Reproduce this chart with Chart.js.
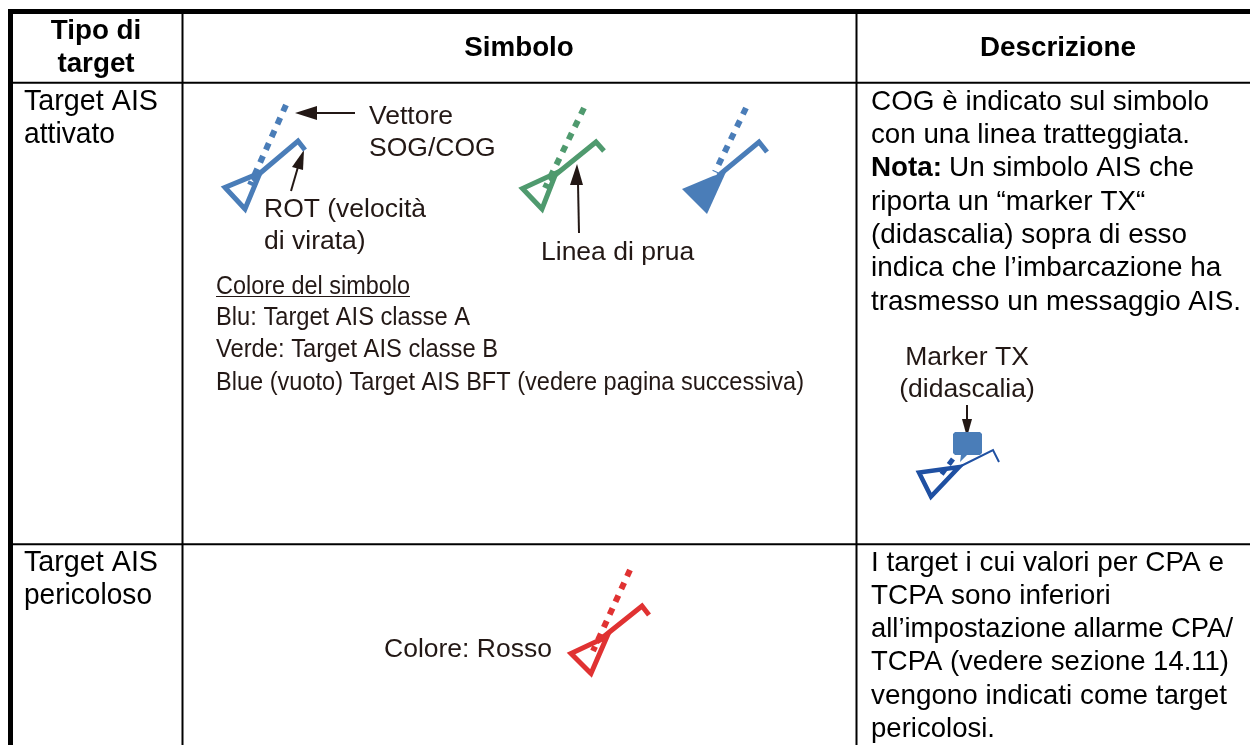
<!DOCTYPE html>
<html>
<head>
<meta charset="utf-8">
<title>Tipo di target</title>
<script src="https://cdn.jsdelivr.net/npm/chart.js@4/dist/chart.umd.min.js"></script>
<style>
  html, body { margin: 0; padding: 0; background: #fff; }
  canvas { display: block; }
</style>
</head>
<body>
<canvas id="myChart" width="1250" height="745"></canvas>
<script>
// table rules
var ruleOuterTop = [[8, 11.5], [1250, 11.5]];
var ruleOuterLeft = [[10.5, 9], [10.5, 745]];
var ruleHeader = [[13, 82.7], [1250, 82.7]];
var ruleRow = [[13, 544.3], [1250, 544.3]];
var ruleCol1 = [[182.5, 14], [182.5, 745]];
var ruleCol2 = [[856.5, 14], [856.5, 745]];

// symbols: vector, triangle, heading line
var blueVector = [[286, 105], [250, 185]];
var blueTriangle = [[225, 187.5], [245, 209], [260, 173], [225, 187.5], [245, 209]];
var blueHeading = [[252, 180], [298, 141], [305, 150]];

var greenVector = [[584, 108], [545, 188]];
var greenTriangle = [[522.5, 188.5], [542, 209], [556, 173], [522.5, 188.5], [542, 209]];
var greenHeading = [[549, 180], [596, 142], [604, 151]];

var filledVector = [[746, 108], [715, 172]];
var filledTriangle = [[682, 189], [707, 214], [726, 172], [713, 176]];
var filledHeading = [[718, 176], [759, 142], [767, 152]];

var redVector = [[630, 570], [593, 651]];
var redTriangle = [[571, 653.5], [591, 673.5], [607, 636.5], [571, 653.5], [591, 673.5]];
var redHeading = [[597, 642], [642, 606], [649, 615]];

var txVector = [[953, 459], [941, 475]];
var txTriangle = [[919, 472.5], [931, 496.5], [959, 467], [919, 472.5], [931, 496.5]];
var txHeading = [[959, 467], [993, 450], [999, 462]];
var txBubble = [[955, 432], [980, 432], [982, 434], [982, 453], [980, 455], [967, 455], [960, 462], [961, 455], [955, 455], [953, 453], [953, 434]];

// arrows: shaft and head
var arrowVectorShaft = [[355, 113], [312, 113]];
var arrowVectorHead = [[295, 113], [317, 106], [317, 120]];
var arrowRotShaft = [[291, 191], [298, 167]];
var arrowRotHead = [[304, 150], [292, 167], [303, 170]];
var arrowPruaShaft = [[579, 233], [578, 183]];
var arrowPruaHead = [[577, 164], [570, 185], [583, 185]];
var arrowTxShaft = [[967, 405], [967, 422]];
var arrowTxHead = [[967, 437], [962, 419], [972, 419]];

var underlineColore = [[216, 296.5], [410, 296.5]];

// text
var headerLabels = ['Tipo di', 'target', 'Simbolo', 'Descrizione'];
var headerX = [96, 96, 519, 1058];
var headerY = [39, 72, 56, 56];

var firstColLabels = ['Target AIS', 'attivato', 'Target AIS', 'pericoloso'];
var firstColY = [110, 143, 571, 604];
var firstColWidth = [134, 91, 134, 128];

var bodyLabels = ['COG è indicato sul simbolo', 'con una linea tratteggiata.', 'Un simbolo AIS che',
  'riporta un “marker TX“', '(didascalia) sopra di esso', 'indica che l’imbarcazione ha',
  'trasmesso un messaggio AIS.',
  'I target i cui valori per CPA e', 'TCPA sono inferiori', 'all’impostazione allarme CPA/',
  'TCPA (vedere sezione 14.11)', 'vengono indicati come target', 'pericolosi.'];
var bodyX = [871, 871, 949, 871, 871, 871, 871, 871, 871, 871, 871, 871, 871];
var bodyY = [110, 143, 176, 210, 243, 276, 310, 571, 604, 637, 670, 704, 737];
var bodyWidth = [338, 319, 245, 275, 316, 351, 370, 354, 240, 362, 358, 356, 124];

var noteLabels = ['Vettore', 'SOG/COG', 'ROT (velocità', 'di virata)', 'Linea di prua', 'Colore: Rosso'];
var noteX = [369, 369, 264, 264, 541, 384];
var noteY = [124, 156, 217, 249, 260, 657];

var markerLabels = ['Marker TX', '(didascalia)'];
var markerX = [967, 967];
var markerY = [365, 397];

var narrowLabels = ['Colore del simbolo', 'Blu: Target AIS classe A', 'Verde: Target AIS classe B',
  'Blue (vuoto) Target AIS BFT (vedere pagina successiva)'];
var narrowY = [294, 325, 357, 389.5];
var narrowWidth = [194, 254, 282, 588];

var black = '#000000';
var dark = '#231815';
var blue = '#4a7db8';
var green = '#4f9a6e';
var red = '#e03232';
var navy = '#1f50a2';

function toPoints(list) {
  return list.map(function (p) { return { x: p[0], y: p[1] }; });
}

function stroke(list, color, width, dash) {
  return {
    data: toPoints(list),
    showLine: true,
    borderColor: color,
    borderWidth: width,
    borderDash: dash || [],
    borderJoinStyle: 'miter',
    pointRadius: 0,
    fill: false,
    tension: 0
  };
}

function solid(list, color) {
  return {
    data: toPoints(list),
    showLine: true,
    borderColor: color,
    borderWidth: 0,
    backgroundColor: color,
    pointRadius: 0,
    fill: 'shape',
    tension: 0
  };
}

var datasets = [
  stroke(ruleOuterTop, black, 5),
  stroke(ruleOuterLeft, black, 5),
  stroke(ruleHeader, black, 2),
  stroke(ruleRow, black, 2),
  stroke(ruleCol1, black, 2),
  stroke(ruleCol2, black, 2),

  stroke(blueVector, blue, 6, [7, 7]),
  stroke(blueTriangle, blue, 5),
  stroke(blueHeading, blue, 5),
  stroke(greenVector, green, 6, [7, 7]),
  stroke(greenTriangle, green, 5),
  stroke(greenHeading, green, 5),
  stroke(filledVector, blue, 6, [7, 7]),
  solid(filledTriangle, blue),
  stroke(filledHeading, blue, 5),
  stroke(redVector, red, 6, [7, 7]),
  stroke(redTriangle, red, 5),
  stroke(redHeading, red, 5),
  solid(txBubble, blue),
  stroke(txVector, navy, 5, [7, 5]),
  stroke(txTriangle, navy, 4.5),
  stroke(txHeading, navy, 2),

  stroke(arrowVectorShaft, dark, 2),
  solid(arrowVectorHead, dark),
  stroke(arrowRotShaft, dark, 2),
  solid(arrowRotHead, dark),
  stroke(arrowPruaShaft, dark, 2),
  solid(arrowPruaHead, dark),
  stroke(arrowTxShaft, dark, 2),
  solid(arrowTxHead, dark),
  stroke(underlineColore, dark, 1.2)
];

var tableText = {
  id: 'tableText',
  afterDatasetsDraw: function (chart) {
    var ctx = chart.ctx;
    var sx = chart.scales.x;
    var sy = chart.scales.y;
    ctx.save();
    ctx.textBaseline = 'alphabetic';

    ctx.fillStyle = black;
    ctx.font = 'bold 27.8px "Liberation Sans"';
    ctx.textAlign = 'center';
    headerLabels.forEach(function (t, i) {
      ctx.fillText(t, sx.getPixelForValue(headerX[i]), sy.getPixelForValue(headerY[i]));
    });

    ctx.textAlign = 'left';
    ctx.fillText('Nota:', sx.getPixelForValue(871), sy.getPixelForValue(176));

    ctx.font = '28.8px "Liberation Sans"';
    firstColLabels.forEach(function (t, i) {
      ctx.fillText(t, sx.getPixelForValue(24), sy.getPixelForValue(firstColY[i]), firstColWidth[i]);
    });

    ctx.font = '27.9px "Liberation Sans"';
    bodyLabels.forEach(function (t, i) {
      ctx.fillText(t, sx.getPixelForValue(bodyX[i]), sy.getPixelForValue(bodyY[i]), bodyWidth[i]);
    });

    ctx.fillStyle = dark;
    ctx.font = '26.5px "Liberation Sans"';
    noteLabels.forEach(function (t, i) {
      ctx.fillText(t, sx.getPixelForValue(noteX[i]), sy.getPixelForValue(noteY[i]));
    });
    ctx.textAlign = 'center';
    markerLabels.forEach(function (t, i) {
      ctx.fillText(t, sx.getPixelForValue(markerX[i]), sy.getPixelForValue(markerY[i]));
    });

    // the colour legend is a condensed face in the original
    ctx.textAlign = 'left';
    ctx.font = '25.5px "Liberation Sans"';
    narrowLabels.forEach(function (t, i) {
      ctx.fillText(t, sx.getPixelForValue(216), sy.getPixelForValue(narrowY[i]), narrowWidth[i]);
    });
    ctx.restore();
  }
};

var ctx = document.getElementById('myChart').getContext('2d');
window.myChart = new Chart(ctx, {
  type: 'scatter',
  data: { datasets: datasets },
  plugins: [tableText],
  options: {
    responsive: false,
    animation: false,
    layout: { padding: 0 },
    plugins: {
      legend: { display: false },
      tooltip: { enabled: false },
      title: { display: false }
    },
    scales: {
      x: { type: 'linear', min: 0, max: 1250, display: false },
      y: { type: 'linear', min: 0, max: 745, reverse: true, display: false }
    }
  }
});
</script>
</body>
</html>
